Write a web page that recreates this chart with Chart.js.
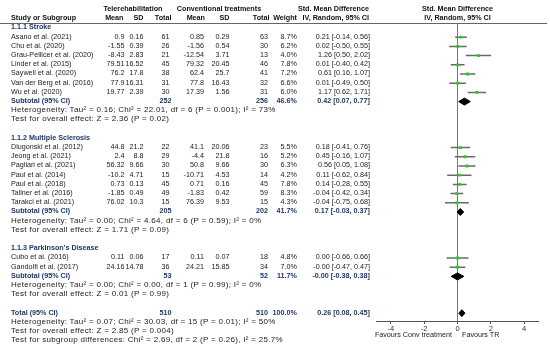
<!DOCTYPE html>
<html><head><meta charset="utf-8">
<script src="https://cdn.jsdelivr.net/npm/chart.js@4/dist/chart.umd.min.js"></script>
<style>
html,body{margin:0;padding:0;background:#fff;}
#wrap{position:relative;width:550px;height:351px;overflow:hidden;font-family:"Liberation Sans",Arial,sans-serif;font-size:7.2px;color:#222;}
#c{position:absolute;left:0;top:0;}
.t{position:absolute;white-space:nowrap;line-height:10px;height:10px;}
.b{font-weight:bold;color:#111;}
.s{color:#1f3864;}
.f{font-size:8px;letter-spacing:0.3px;}
#hline{position:absolute;left:0;top:22.5px;width:547px;height:1px;background:#666;}
</style></head>
<body><div id="wrap"><div id="hline"></div><canvas id="c" width="550" height="351" style="width:550px;height:351px"></canvas></div>
<script>
const groupTitles = ['1.1.1 Stroke', '1.1.2 Multiple Sclerosis', "1.1.3 Parkinson's Disease"];
const studyNames = ['Asano et al. (2021)','Chu et al. (2020)','Grau-Pellicer et al. (2020)','Linder et al. (2015)','Saywell et al. (2020)','Van der Berg et al. (2016)','Wu et al. (2020)','Dlugonski et al. (2012)','Jeong et al. (2021)','Pagliari et al. (2021)','Paul et al. (2014)','Paul et al. (2018)','Tallner et al. (2016)','Tarakci et al. (2021)','Cubo et al. (2016)','Gandolfi et al. (2017)'];
const studyGroup = [0,0,0,0,0,0,0,1,1,1,1,1,1,1,2,2];
const teleMean = [0.9,-1.55,-8.43,79.51,76.2,77.9,19.77,44.8,2.4,56.32,-10.2,0.73,-1.85,76.02,0.11,24.16];
const teleSD = [0.16,0.39,2.83,16.52,17.8,16.31,2.39,21.2,8.8,9.66,4.71,0.13,0.49,10.3,0.06,14.78];
const teleN = [61,26,21,45,38,31,30,22,29,30,15,45,49,15,17,36];
const convMean = [0.85,-1.56,-12.54,79.32,62.4,77.8,17.39,41.1,-4.4,50.8,-10.71,0.71,-1.83,76.39,0.11,24.21];
const convSD = [0.29,0.54,3.71,20.45,25.7,16.43,1.56,20.06,21.8,9.66,4.53,0.16,0.42,9.53,0.07,15.85];
const convN = [63,30,13,46,41,32,31,23,16,30,14,45,59,15,18,34];
const weightPct = [8.7,6.2,4.0,7.8,7.2,6.6,6.0,5.5,5.2,6.3,4.2,7.8,8.3,4.3,4.8,7.0];
const smd = [0.21,0.02,1.26,0.01,0.61,0.01,1.17,0.18,0.45,0.56,0.11,0.14,-0.04,-0.04,0.00,-0.003];
const ciLow = [-0.14,-0.50,0.50,-0.40,0.16,-0.49,0.62,-0.41,-0.16,0.05,-0.62,-0.28,-0.42,-0.75,-0.66,-0.47];
const ciHigh = [0.56,0.55,2.02,0.42,1.07,0.50,1.71,0.76,1.07,1.08,0.84,0.55,0.34,0.68,0.66,0.47];

const subTeleN = [252,205,53];
const subConvN = [256,202,52];
const subWeight = [46.6,41.7,11.7];
const subSmd = [0.42,0.17,-0.003];
const subLow = [0.07,-0.03,-0.38];
const subHigh = [0.77,0.37,0.38];
const subHeterogeneity = [
  'Heterogeneity: Tau² = 0.16; Chi² = 22.01, df = 6 (P = 0.001); I² = 73%',
  'Heterogeneity: Tau² = 0.00; Chi² = 4.64, df = 6 (P = 0.59); I² = 0%',
  'Heterogeneity: Tau² = 0.00; Chi² = 0.00, df = 1 (P = 0.99); I² = 0%'];
const subOverall = [
  'Test for overall effect: Z = 2.36 (P = 0.02)',
  'Test for overall effect: Z = 1.71 (P = 0.09)',
  'Test for overall effect: Z = 0.01 (P = 0.99)'];

const totalTeleN = 510, totalConvN = 510, totalWeight = 100.0;
const totalSmd = 0.26, totalLow = 0.08, totalHigh = 0.45;
const totalHeterogeneity = 'Heterogeneity: Tau² = 0.07; Chi² = 30.03, df = 15 (P = 0.01); I² = 50%';
const totalOverall = 'Test for overall effect: Z = 2.85 (P = 0.004)';
const subgroupTest = 'Test for subgroup differences: Chi² = 2.69, df = 2 (P = 0.26), I² = 25.7%';
const xTicks = [-4,-2,0,2,4];
const axisLabelLeft = 'Favours Conv treatment';
const axisLabelRight = 'Favours TR';

// ---- row layout ----
const studyRow = [], subRow = [], titleRow = [], hetRow = [], testRow = [];
let row = 0;
for (let g = 0; g < groupTitles.length; g++) {
  titleRow[g] = row++;
  studyNames.forEach((n,i) => { if (studyGroup[i] === g) studyRow[i] = row++; });
  subRow[g] = row++;
  hetRow[g] = row++;
  testRow[g] = row++;
  row++;
}
const totalRow = row;

const fmtCI = (e,l,h) => e.toFixed(2) + ' [' + l.toFixed(2) + ', ' + h.toFixed(2) + ']';

// ---- datasets ----
const datasets = [];
studyNames.forEach((n,i) => {
  datasets.push({type:'line', data:[{x:ciLow[i],y:studyRow[i]},{x:ciHigh[i],y:studyRow[i]}],
    borderColor:'#6a6a6a', borderWidth:1.5, pointRadius:0, fill:false, order:2});
});
const dh = 0.38;
function diamond(e,l,h,r){
  return {type:'line', data:[{x:l,y:r},{x:e,y:r-dh},{x:h,y:r},{x:e,y:r+dh},{x:l,y:r}],
    borderColor:'#000', backgroundColor:'#000', borderWidth:1, pointRadius:0, fill:'shape', tension:0, order:1};
}
for (let g = 0; g < 3; g++) datasets.push(diamond(subSmd[g], subLow[g], subHigh[g], subRow[g]));
datasets.push(diamond(totalSmd, totalLow, totalHigh, totalRow));
datasets.push({type:'scatter', data: smd.map((v,i)=>({x:v,y:studyRow[i]})),
  pointStyle:'rect', pointRadius:2, backgroundColor:'#22cc22', borderWidth:0, order:0});

const chart = new Chart(document.getElementById('c').getContext('2d'), {
  type:'scatter',
  data:{datasets},
  options:{
    responsive:false, animation:false, devicePixelRatio:1,
    layout:{padding:{left:376.7, right:11.7, top:23, bottom:0}},
    plugins:{legend:{display:false}, tooltip:{enabled:false}},
    scales:{
      x:{type:'linear', min:-4.85, max:4.85, position:'bottom',
        afterBuildTicks: s => { s.ticks = xTicks.map(v => ({value:v})); },
        afterFit: s => { s.height = 30; },
        grid:{color: c => (c.tick && c.tick.value === 0) ? '#777' : 'rgba(0,0,0,0)', lineWidth:1, drawTicks:true, tickLength:3, tickColor:'#555'},
        border:{display:true, color:'#555', width:1},
        ticks:{font:{family:'Liberation Sans', size:7.5}, color:'#333', padding:0, maxRotation:0, callback: v => String(v)}
      },
      y:{type:'linear', min:-0.543, max:31.85, reverse:true, display:false}
    }
  }
});

// ---- table text ----
const wrap = document.getElementById('wrap');
function put(text, x, yc, align, cls){
  const d = document.createElement('div');
  d.className = 't' + (cls ? ' ' + cls : '');
  d.textContent = text;
  d.style.top = (yc - 5) + 'px';
  if (align === 'r') { d.style.left = (x - 300) + 'px'; d.style.width = '300px'; d.style.textAlign = 'right'; }
  else if (align === 'c') { d.style.left = (x - 150) + 'px'; d.style.width = '300px'; d.style.textAlign = 'center'; }
  else { d.style.left = x + 'px'; }
  wrap.appendChild(d);
}
const ys = chart.scales.y, xs = chart.scales.x;
const rowY = r => ys.getPixelForValue(r) - 0.5;
const x0 = xs.getPixelForValue(0);
const COL = {name:11, tM:124.5, tSD:143.5, tN:169.5, cM:204, cSD:229.5, cN:268, w:297, ci:370};

// headers
put('Telerehabilitation', 133, 9, 'c', 'b');
put('Conventional treatments', 219, 9, 'c', 'b');
put('Std. Mean Difference', 369, 9, 'r', 'b');
put('Std. Mean Difference', x0, 9, 'c', 'b');
put('Study or Subgroup', COL.name, 18.3, 'l', 'b');
put('Mean', COL.tM - 1, 18.3, 'r', 'b');
put('SD', COL.tSD, 18.3, 'r', 'b');
put('Total', COL.tN + 2, 18.3, 'r', 'b');
put('Mean', COL.cM + 1, 18.3, 'r', 'b');
put('SD', COL.cSD, 18.3, 'r', 'b');
put('Total', COL.cN + 1.5, 18.3, 'r', 'b');
put('Weight', COL.w, 18.3, 'r', 'b');
put('IV, Random, 95% CI', 369, 18.3, 'r', 'b');
put('IV, Random, 95% CI', x0, 18.3, 'c', 'b');

for (let g = 0; g < 3; g++) {
  put(groupTitles[g], COL.name, rowY(titleRow[g]), 'l', 'b s');
  put('Subtotal (95% CI)', COL.name, rowY(subRow[g]), 'l', 'b s');
  put(String(subTeleN[g]), COL.tN + 2, rowY(subRow[g]), 'r', 'b s');
  put(String(subConvN[g]), COL.cN, rowY(subRow[g]), 'r', 'b s');
  put(subWeight[g].toFixed(1) + '%', COL.w, rowY(subRow[g]), 'r', 'b s');
  put(fmtCI(subSmd[g], subLow[g], subHigh[g]), COL.ci, rowY(subRow[g]), 'r', 'b s');
  put(subHeterogeneity[g], COL.name, rowY(hetRow[g]), 'l', 'f');
  put(subOverall[g], COL.name, rowY(testRow[g]), 'l', 'f');
}
studyNames.forEach((n,i) => {
  const y = rowY(studyRow[i]);
  put(n, COL.name, y, 'l');
  put(String(teleMean[i]), COL.tM, y, 'r');
  put(String(teleSD[i]), COL.tSD, y, 'r');
  put(String(teleN[i]), COL.tN, y, 'r');
  put(String(convMean[i]), COL.cM, y, 'r');
  put(String(convSD[i]), COL.cSD, y, 'r');
  put(String(convN[i]), COL.cN, y, 'r');
  put(weightPct[i].toFixed(1) + '%', COL.w, y, 'r');
  put(fmtCI(smd[i], ciLow[i], ciHigh[i]), COL.ci, y, 'r');
});
put('Total (95% CI)', COL.name, rowY(totalRow), 'l', 'b s');
put(String(totalTeleN), COL.tN + 2, rowY(totalRow), 'r', 'b s');
put(String(totalConvN), COL.cN, rowY(totalRow), 'r', 'b s');
put(totalWeight.toFixed(1) + '%', COL.w, rowY(totalRow), 'r', 'b s');
put(fmtCI(totalSmd, totalLow, totalHigh), COL.ci, rowY(totalRow), 'r', 'b s');
put(totalHeterogeneity, COL.name, rowY(totalRow + 1), 'l', 'f');
put(totalOverall, COL.name, rowY(totalRow + 2), 'l', 'f');
put(subgroupTest, COL.name, rowY(totalRow + 3), 'l', 'f');
put(axisLabelLeft, x0 - 5.5, 335, 'r');
put(axisLabelRight, x0 + 4.5, 335, 'l');
</script>
</body></html>
